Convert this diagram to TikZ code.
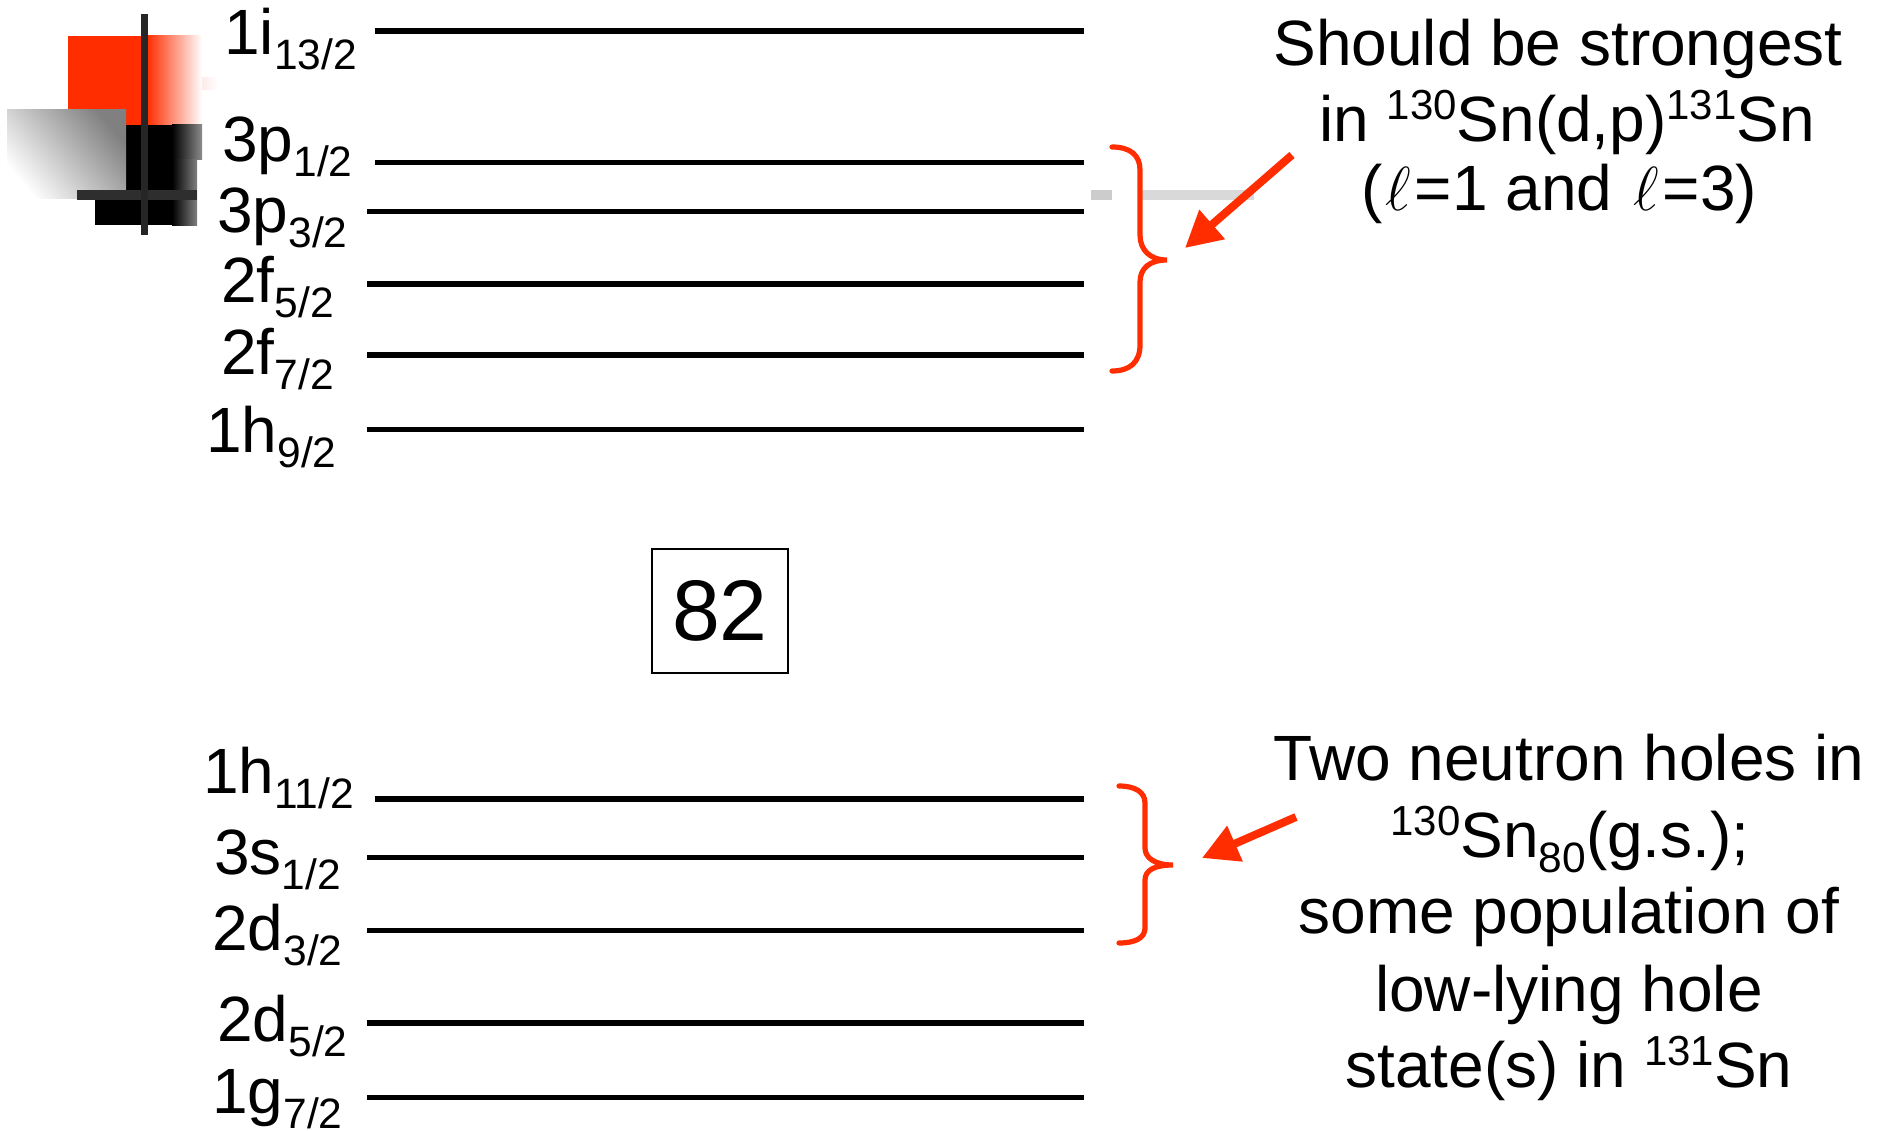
\documentclass[tikz,border=0pt]{standalone}
\usepackage{fontspec}
\setmainfont{Liberation Sans}
\usetikzlibrary{arrows.meta}
\definecolor{accent}{HTML}{FF2D00}
\newcommand{\subt}[1]{\raisebox{-15pt}{\fontsize{42.5}{43}\selectfont #1}}
\newcommand{\supt}[1]{\raisebox{22pt}{\fontsize{42}{43}\selectfont #1}}
\newcommand{\ellsym}{\hspace{3.5pt}\scalebox{2.5}{$\ell$}\hspace{3.5pt}}
\tikzset{
  level line/.style={line width=5.2pt,black},
  level label/.style={anchor=base west,inner sep=0pt,font=\fontsize{64}{64}\selectfont},
  note/.style={anchor=base,inner sep=0pt,font=\fontsize{64}{64}\selectfont},
  brace line/.style={line width=5.2pt,accent,line cap=round},
  pointer/.style={line width=8pt,accent,-{Triangle[length=36pt,width=37pt]}},
  bar dark/.style={fill=#1,draw=none}
}
% one level: name, label x, label baseline, orbital, j, line start, line y
\newcommand{\orbital}[7]{%
  \node[level label] (#1) at (#2,#3) {#4\subt{#5}};
  \coordinate (#1a) at (#6,#7);
  \coordinate (#1b) at (1084,#7);
  \draw[level line] (#1a) -- (#1b);
}
\begin{document}
\begin{tikzpicture}[x=1pt,y=-1pt]
\useasboundingbox (0,0) rectangle (1885,1131);

% corner ornament
\fill[accent] (68,36) rectangle (147,125);
\shade[left color=accent,right color=white,draw=none] (147,36) rectangle (202,125);
\shade[left color=red!8,right color=white,draw=none] (202,78) rectangle (218,90);
\fill[black] (126,125) rectangle (173,160);
\shade[left color=black,right color=black!45,draw=none] (172,125) rectangle (202,160);
\fill[black] (95,160) rectangle (173,225);
\shade[left color=black,right color=black!50,draw=none] (172,160) rectangle (197,226);
\shade[top color=black!50,bottom color=white,shading angle=-50,draw=none] (7,110) rectangle (126,199);
\fill[bar dark=black!82] (77,190) rectangle (197,200);
\fill[bar dark=black!85] (141,14) rectangle (148,235);

% faint bar behind the upper brace
\fill[bar dark=black!20] (1091,190) rectangle (1112,200);
\fill[bar dark=black!15] (1142,190) rectangle (1254,200);

% upper levels
\orbital{ione}{224}{55}{1i}{13/2}{375}{31}
\orbital{pone}{222}{162}{3p}{1/2}{375}{162.5}
\orbital{pthree}{217}{233}{3p}{3/2}{367}{211.5}
\orbital{ffive}{221}{303}{2f}{5/2}{367}{284}
\orbital{fseven}{221}{375}{2f}{7/2}{367}{355}
\orbital{hnine}{206}{452}{1h}{9/2}{367}{429.5}

% shell closure
\node[draw=black,line width=1.2pt,minimum width=136pt,minimum height=124pt,inner sep=0pt,font=\fontsize{86}{86}\selectfont] (shell) at (720,611) {\raisebox{-6pt}{82}};

% lower levels
\orbital{heleven}{203}{793}{1h}{11/2}{375}{799}
\orbital{sone}{214}{874}{3s}{1/2}{367}{857.5}
\orbital{dthree}{212}{950}{2d}{3/2}{367}{930.5}
\orbital{dfive}{217}{1041}{2d}{5/2}{367}{1023}
\orbital{gseven}{212}{1113}{1g}{7/2}{367}{1097.5}

% braces
\draw[brace line] (1112,147) .. controls (1130,147) and (1140,155) .. (1140,170) -- (1140,235)
  .. controls (1140,250) and (1150,260) .. (1167,260)
  .. controls (1150,260) and (1140,268) .. (1140,282) -- (1140,345)
  .. controls (1140,362) and (1130,371) .. (1112,371);
\draw[brace line] (1119,786) .. controls (1135,786) and (1145,792) .. (1145,803) -- (1145,848)
  .. controls (1145,858) and (1155,865) .. (1173,865)
  .. controls (1155,865) and (1145,870) .. (1145,880) -- (1145,928)
  .. controls (1145,938) and (1135,943) .. (1119,943);

% notes
\node[note] (n1) at (1558,66) {Should be strongest};
\node[note] (n2) at (1567,142) {in \supt{130}Sn(d,p)\supt{131}Sn};
\node[note] (n3) at (1559,211) {(\ellsym=1 and \ellsym=3)};
\node[note] (m1) at (1569,780) {Two neutron holes in};
\node[note] (m2) at (1570,857) {\supt{130}Sn\subt{80}(g.s.);};
\node[note] (m3) at (1569,933) {some population of};
\node[note] (m4) at (1569,1011) {low-lying hole};
\node[note] (m5) at (1569,1087) {state(s) in \supt{131}Sn};

% arrows from the notes to the braces
\coordinate (a1s) at (1292,155);
\coordinate (a1e) at (1185,248);
\coordinate (a2s) at (1296,817);
\coordinate (a2e) at (1202,858);
\draw[pointer] (a1s) -- (a1e);
\draw[pointer] (a2s) -- (a2e);
\end{tikzpicture}
\end{document}
